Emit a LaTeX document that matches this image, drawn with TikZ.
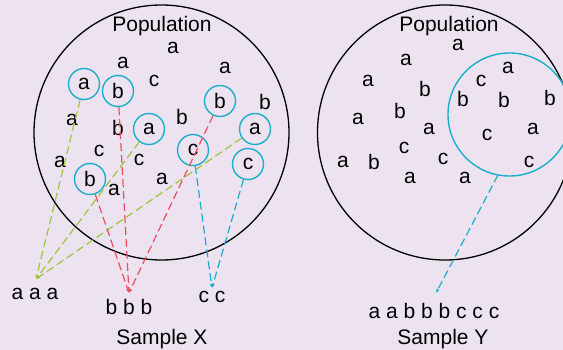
\documentclass[tikz,border=0pt]{standalone}
\usepackage{fontspec}
\setmainfont{Liberation Sans}
\usetikzlibrary{arrows.meta}
\definecolor{bg}{HTML}{EDE3F0}
\definecolor{cblue}{HTML}{1AAECB}
\definecolor{cgreen}{HTML}{9CC63C}
\definecolor{cred}{HTML}{E8505E}
\tikzset{
  lt/.style={font=\fontsize{21}{24}\selectfont, inner sep=0pt, anchor=center},
  circ/.style={lt, circle, draw=cblue, line width=1.4pt, minimum size=31pt},
  pop/.style={draw=black, line width=1.3pt},
  link/.style={dash pattern=on 8pt off 4pt, line width=1.2pt, -{Latex[length=4pt,width=3.5pt]}},
  gline/.style={link, draw=cgreen, color=cgreen},
  rline/.style={link, draw=cred, color=cred},
  bline/.style={link, draw=cblue, color=cblue},
}
\begin{document}
\begin{tikzpicture}[x=1pt,y=-1pt]
\fill[bg] (0,0) rectangle (563,350);
\useasboundingbox (0,0) rectangle (563,350);
\clip (0,0) rectangle (563,350);
% populations
\draw[pop] (161.5,132.5) circle[radius=127.5];
\draw[pop] (445,132.5) circle[radius=127.5];
\draw[cblue, line width=1.4pt] (509.5,114.5) circle[radius=61.5];
\node[lt] (popx) at (162,26) {Population};
\node[lt] (popy) at (449,26) {Population};
% plain letters, left
\foreach \x/\y/\t [count=\i] in {173/48/a,123/63/a,225/68/a,154/81/c,265/102/b,72/120/a,118/128/b,182/117/b,99/151/c,139/160/c,60/162/a,114/190/a,162/179/a}
  \node[lt] (lx\i) at (\x,\y) {\t};
% circled letters, left
\node[circ] (ca1) at (84,84) {a};
\node[circ] (cb1) at (118,91) {b};
\node[circ] (cb2) at (220,101) {b};
\node[circ] (ca2) at (149,129) {a};
\node[circ] (ca3) at (255,129) {a};
\node[circ] (cc1) at (193,150) {c};
\node[circ] (cc2) at (248,164) {c};
\node[circ] (cb3) at (90,179) {b};
% plain letters, right
\foreach \x/\y/\t [count=\i] in {458/45/a,406/60/a,368/81/a,425/89/b,358/119/a,400/111/b,429/129/a,404/148/c,343/162/a,374/162/b,443/159/c,410/178/a,465/178/a,508/68/a,481/81/c,463/99/b,504/100/b,550/98/b,487/135/c,533/129/a,529/162/c}
  \node[lt] (ly\i) at (\x,\y) {\t};
% sample convergence points
\coordinate (ga) at (36,279);
\coordinate (rb) at (129,293);
\coordinate (bc) at (212,288);
\coordinate (ysrc) at (498,175);
\coordinate (yend) at (436,293);
% connectors
\draw[gline] (ca1) -- (ga);
\draw[gline] (ca2) -- (ga);
\draw[gline] (ca3) -- (ga);
\draw[rline] (cb1) -- (rb);
\draw[rline] (cb2) -- (rb);
\draw[rline] (cb3) -- (rb);
\draw[bline] (cc1) -- (bc);
\draw[bline] (cc2) -- (bc);
\draw[bline] (ysrc) -- (yend);
% samples
\node[lt] (sa) at (35,294) {a a a};
\node[lt] (sb) at (129,307) {b b b};
\node[lt] (sc) at (212,297) {c c};
\node[lt] (sy) at (434,311) {a a b b b c c c};
\node[lt] (sx) at (162,339) {Sample X};
\node[lt] (syl) at (443,339) {Sample Y};
\end{tikzpicture}
\end{document}
